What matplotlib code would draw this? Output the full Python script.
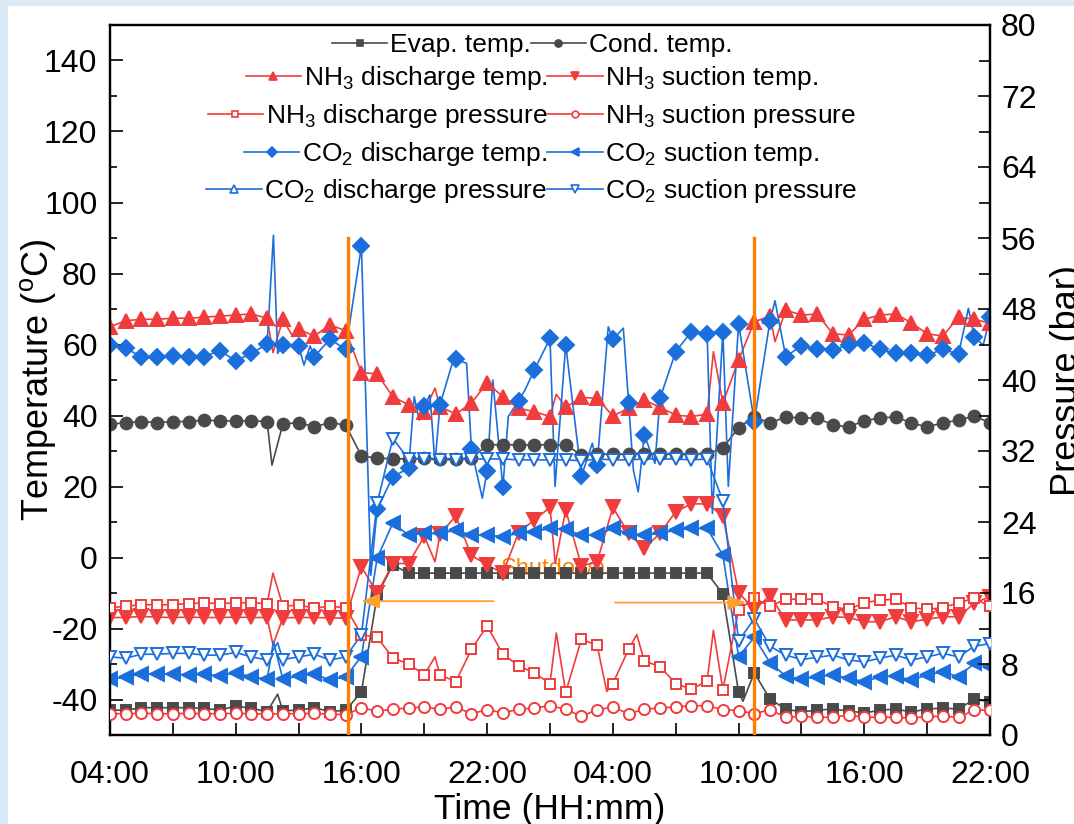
import numpy as np
import matplotlib
matplotlib.use("Agg")
import matplotlib.pyplot as plt
from matplotlib.lines import Line2D
from matplotlib.patches import Rectangle

plt.rcParams['font.family'] = ['Liberation Sans', 'DejaVu Sans']
plt.rcParams['mathtext.default'] = 'regular'
plt.rcParams['axes.unicode_minus'] = False

# ---------------------------------------------------------------------------
# Time axis: hours after 04:00 on day 1, logged every 45 min (57 samples)
# ---------------------------------------------------------------------------
sample_step_h = 0.75
t = np.arange(57) * sample_step_h
tick_hours = [0, 6, 12, 18, 24, 30, 36, 42]
tick_labels = ['04:00', '10:00', '16:00', '22:00', '04:00', '10:00', '16:00', '22:00']

shutdown_start_h = 11.35
shutdown_end_h = 30.72

# Temperatures (degC), left axis
evap_temp = [-43.0, -43.0, -42.3, -42.3, -42.3, -42.3, -42.5, -43.0, -41.8, -42.5, -43.4, -43.2, -43.0, -42.3, -43.4, -43.0,
             -37.9, -10.6, -2.1, -4.4, -4.4, -4.4, -4.4, -4.4, -4.4, -4.4, -4.4, -4.4, -4.4, -4.4, -4.4, -4.4, -4.4, -4.4,
             -4.4, -4.4, -4.4, -4.4, -4.4,
             -10.3, -37.9, -32.5, -39.9, -42.7, -43.5, -43.0, -42.7, -43.2, -43.8, -43.0, -42.7, -43.5, -42.7, -42.4, -42.7,
             -39.9, -40.7]
cond_temp = [37.5, 38.0, 38.3, 38.0, 38.3, 38.3, 38.7, 38.5, 38.5, 38.5, 38.3, 37.6, 38.0, 36.8, 38.0, 37.3,
             28.6, 28.0, 27.8, 27.8, 27.9, 27.8, 27.8, 27.9,
             31.7, 31.8, 31.7, 31.7, 31.8, 31.7,
             28.9, 29.1, 29.1, 29.1, 29.2, 29.1, 29.1, 29.1, 29.2,
             30.8, 36.6,
             39.6, 37.9, 39.6, 39.3, 39.3, 37.3, 36.8, 38.5, 39.3, 39.6, 37.9, 36.8, 37.9, 38.7, 39.9, 37.9]
nh3_dis_temp = [65.0, 66.7, 67.1, 67.1, 67.4, 67.4, 67.7, 68.0, 68.3, 68.6, 67.4, 67.1, 64.3, 62.4, 65.5, 63.9,
                52.1, 51.7, 45.3, 43.0, 41.1, 42.5, 40.4, 43.5, 49.2, 45.3, 42.0, 41.1, 39.7, 42.3, 45.1, 44.8, 39.9,
                42.0, 44.4, 42.3, 40.1, 39.7, 40.4, 43.5, 55.6,
                66.4, 68.0, 69.7, 68.3, 68.6, 63.0, 62.7, 67.1, 68.3, 68.6, 66.1, 63.0, 62.4, 67.7, 67.1, 66.0]
nh3_suc_temp = [-16.9, -16.9, -16.6, -16.8, -16.9, -16.8, -16.9, -16.9, -16.8, -16.9, -16.9, -17.0, -16.9, -16.9, -17.0, -17.1,
                -2.6, -10.1, -1.7, -1.7, 6.0, 6.5, 11.7, 0.6, -2.1, -4.4, 7.0, 10.6, 14.1, 13.4, -2.4, -1.2, 14.1,
                6.8, 2.6, 6.8, 12.9, 15.1, 15.1, 11.7, -9.9,
                -14.6, -10.8, -17.6, -17.6, -17.6, -16.7, -16.9, -18.1, -18.1, -16.7, -18.1, -17.4, -16.7, -16.7, -12.9, -11.0]
co2_dis_temp = [59.9, 58.9, 56.6, 56.4, 56.8, 56.4, 56.6, 58.3, 55.4, 57.5, 60.1, 59.9, 59.6, 56.6, 61.5, 58.6,
                87.7, 13.6, 22.8, 25.1, 42.7, 43.0, 55.8, 30.5, 24.4, 19.8, 44.2, 52.8, 61.7, 59.9, 22.9, 26.1, 61.5,
                43.6, 34.5, 44.8, 58.0, 63.6, 63.0, 63.6, 65.8,
                38.3, 66.7, 56.6, 59.6, 58.6, 58.5, 59.9, 60.5, 58.6, 57.5, 57.5, 57.0, 58.6, 57.3, 62.0, 67.7]
co2_suc_temp = [-34.3, -33.7, -32.8, -32.8, -32.8, -33.1, -32.8, -33.4, -32.4, -33.6, -34.3, -34.3, -33.4, -32.8, -34.5, -33.6,
                -27.9, -0.2, 9.7, 6.3, 6.8, 6.8, 7.7, 6.3, 6.3, 5.9, 6.8, 7.3, 8.2, 7.9, 6.3, 6.3, 8.2, 6.8, 6.3, 6.8,
                7.7, 8.2, 8.2, 0.7, -27.9,
                -22.5, -29.6, -33.4, -34.3, -33.6, -33.1, -34.0, -35.0, -33.6, -33.4, -34.5, -33.1, -32.2, -33.6, -29.8, -30.8]

# Pressures (bar), right axis
nh3_dis_p = [14.35, 14.5, 14.7, 14.65, 14.7, 14.8, 14.9, 14.8, 14.9, 14.9, 14.8, 14.5, 14.65, 14.3, 14.5, 14.35,
             11.3, 11.0, 8.7, 8.0, 6.8, 6.8, 6.0, 9.65, 12.3, 9.1, 7.8, 7.0, 5.8, 4.8, 10.8, 10.1, 5.8, 9.65, 8.35,
             7.7, 5.8, 5.15, 6.1, 5.1, 14.1,
             15.4, 14.5, 15.3, 15.3, 15.3, 14.45, 14.15, 14.9, 15.2, 15.3, 14.35, 14.15, 14.35, 14.9, 15.4, 14.5]
nh3_suc_p = [2.4, 2.4, 2.45, 2.4, 2.4, 2.45, 2.4, 2.4, 2.45, 2.4, 2.35, 2.4, 2.4, 2.45, 2.35, 2.3,
             3.05, 2.7, 2.9, 3.05, 3.15, 2.9, 3.15, 2.4, 2.85, 2.5, 2.9, 3.05, 3.3, 2.9, 2.1, 2.85, 3.15, 2.4, 2.9,
             3.05, 3.15, 3.3, 3.3, 2.85, 2.75,
             2.4, 2.85, 2.0, 2.1, 2.0, 2.0, 2.25, 2.0, 2.0, 2.0, 1.9, 2.1, 2.1, 2.0, 2.8, 2.8]
co2_dis_p = []
co2_suc_p = [8.8, 8.65, 9.1, 9.1, 9.2, 9.2, 9.0, 9.0, 9.3, 8.8, 8.45, 8.5, 8.8, 9.1, 8.45, 8.8,
             11.3, 26.1, 33.4, 31.1, 31.1, 31.0, 31.0, 31.1, 31.1, 31.1, 31.0, 31.0, 31.0, 31.0, 30.9, 31.1, 31.0,
             31.0, 31.1, 31.1, 31.1, 31.0, 31.1, 26.4, 10.6,
             13.1, 10.0, 9.0, 8.5, 8.75, 9.0, 8.45, 8.25, 8.65, 9.0, 8.45, 8.8, 9.2, 8.8, 10.0, 10.3]

# Intermediate readings between the marked samples {hour: value}
evap_extra = {8.0: -38.5, 30.21: -40.5}
cond_extra = {7.73: 26.0}
nh3_dis_temp_extra = {7.78: 57.7, 8.73: 62.2, 15.51: 47.7, 21.3: 46.0, 28.8: 58.0, 31.74: 60.8}
nh3_suc_temp_extra = {7.78: -24.6, 15.51: -1.2, 21.25: -1.7}
co2_dis_temp_extra = {7.8: 90.8, 8.0: 57.5, 9.26: 54.2, 9.55: 59.6, 12.45: -5.0, 14.52: 45.3, 14.76: 38.7,
                      15.27: 45.8, 15.51: 26.5, 16.31: 54.2, 17.02: 54.7, 17.77: 16.7, 18.27: 50.0, 19.01: 39.7,
                      19.81: 47.2, 21.24: 20.0, 23.02: 32.2, 23.78: 65.0, 24.5: 64.6, 24.98: 24.6, 25.21: 18.5,
                      26.01: 26.5, 28.75: 12.4, 29.51: 20.0, 31.74: 72.3, 40.97: 70.2, 41.68: 59.9}
co2_suc_temp_extra = {7.8: -23.7}
nh3_dis_p_extra = {7.78: 18.25, 15.51: 8.8, 21.3: 11.5, 23.71: 4.9, 25.14: 11.3, 28.8: 11.8}
nh3_suc_p_extra = {}
co2_dis_p_extra = {}
co2_suc_p_extra = {8.0: 10.4}

GRAY = '#4a4a4a'
RED = '#f03c3c'
BLUE = '#1b6fdc'
ORANGE = '#ff8000'

fig = plt.figure(figsize=(10.74, 8.24), dpi=100)
fig.patch.set_facecolor('#dbeaf7')
fig.add_artist(Rectangle((8 / 1074, 0), 1, 1 - 6 / 824, transform=fig.transFigure,
                         facecolor='white', edgecolor='none', zorder=-10))

ax = fig.add_axes([110 / 1074, 89 / 824, 880 / 1074, 710 / 824])
ax2 = ax.twinx()
ax.set_zorder(1)
ax2.set_zorder(2)
ax.patch.set_facecolor('white')
ax2.patch.set_visible(False)


def merged(values, extra):
    pts = dict(zip(t[:len(values)], values))
    pts.update(extra)
    keys = sorted(pts)
    return keys, [pts[k] for k in keys]


series = [
    # (axis, values, extra, label, color, marker, ms, filled)
    (ax, evap_temp, evap_extra, 'Evap. temp.', GRAY, 's', 7.5, True),
    (ax, cond_temp, cond_extra, 'Cond. temp.', GRAY, 'o', 8.5, True),
    (ax, nh3_dis_temp, nh3_dis_temp_extra, 'NH$_3$ discharge temp.', RED, '^', 10, True),
    (ax, nh3_suc_temp, nh3_suc_temp_extra, 'NH$_3$ suction temp.', RED, 'v', 10, True),
    (ax2, nh3_dis_p, nh3_dis_p_extra, 'NH$_3$ discharge pressure', RED, 's', 7.5, False),
    (ax2, nh3_suc_p, nh3_suc_p_extra, 'NH$_3$ suction pressure', RED, 'o', 8, False),
    (ax, co2_dis_temp, co2_dis_temp_extra, 'CO$_2$ discharge temp.', BLUE, 'D', 8.5, True),
    (ax, co2_suc_temp, co2_suc_temp_extra, 'CO$_2$ suction temp.', BLUE, '<', 10, True),
    (ax2, co2_dis_p, co2_dis_p_extra, 'CO$_2$ discharge pressure', BLUE, '^', 9, False),
    (ax2, co2_suc_p, co2_suc_p_extra, 'CO$_2$ suction pressure', BLUE, 'v', 9, False),
]

handles = {}
for axis, vals, extra, label, color, marker, ms, filled in series:
    lx, ly = merged(vals, extra)
    axis.plot(lx, ly, color=color, lw=1.2, zorder=3)
    mfc = color if filled else 'white'
    axis.plot(t[:len(vals)], vals, linestyle='none', marker=marker, ms=ms,
              mfc=mfc, mec=color, mew=1.4, zorder=4)
    handles[label] = Line2D([], [], color=color, lw=1.2, marker=marker, ms=ms * 0.6,
                            mfc=mfc, mec=color, mew=1.2)

# Shutdown annotation
ax.text(21.15, -3.2, 'Shutdown', color=ORANGE, fontsize=17, ha='center', va='center', zorder=2)
for xv in (shutdown_start_h, shutdown_end_h):
    ax2.plot([xv, xv], [-50, 90], color=ORANGE, lw=2.4, transform=ax.transData, zorder=6)
arrow_kw = dict(arrowstyle='-|>,head_length=1.1,head_width=0.45', color='#ffa033', lw=1.3,
                shrinkA=0, shrinkB=0)
ax2.annotate('', xy=(12.0, -12.3), xytext=(18.3, -12.3), xycoords=ax.transData,
             textcoords=ax.transData, arrowprops=arrow_kw, zorder=7)
ax2.annotate('', xy=(30.35, -12.7), xytext=(24.1, -12.7), xycoords=ax.transData,
             textcoords=ax.transData, arrowprops=arrow_kw, zorder=7)

# Axes, ticks, labels
ax.set_xlim(0, 42)
ax.set_ylim(-50, 150)
ax2.set_ylim(0, 80)
ax.set_xticks(tick_hours)
ax.set_xticklabels(tick_labels)
ax.set_xticks(np.arange(3, 42, 6), minor=True)
ax.set_yticks(np.arange(-40, 141, 20))
ax.set_yticks(np.arange(-50, 151, 10), minor=True)
ax2.set_yticks(np.arange(0, 81, 8))
ax2.set_yticks(np.arange(0, 81, 4), minor=True)

for a in (ax, ax2):
    for s in a.spines.values():
        s.set_linewidth(1.6)
ax.tick_params(axis='both', which='both', direction='in', labelsize=23, width=1.2)
ax.tick_params(axis='y', which='major', length=9, pad=9)
ax.tick_params(axis='y', which='minor', length=5)
ax.tick_params(axis='x', which='both', length=9, pad=18)
ax2.tick_params(axis='y', which='both', direction='in', labelsize=23, width=1.2)
ax2.tick_params(axis='y', which='major', length=9, pad=8)
ax2.tick_params(axis='y', which='minor', length=8)

ax.set_xlabel('Time (HH:mm)', fontsize=25.5, labelpad=2)
ax.set_ylabel('Temperature ($^{o}$C)', fontsize=26)
ax.yaxis.set_label_coords(-0.059, 0.5)
ax2.set_ylabel('Pressure (bar)', fontsize=26)
ax2.yaxis.set_label_coords(1.068, 0.5)

# Legend: five centred rows of two entries
legend_rows = [
    ('Evap. temp.', 'Cond. temp.', 45),
    ('NH$_3$ discharge temp.', 'NH$_3$ suction temp.', 78),
    ('NH$_3$ discharge pressure', 'NH$_3$ suction pressure', 116),
    ('CO$_2$ discharge temp.', 'CO$_2$ suction temp.', 154),
    ('CO$_2$ discharge pressure', 'CO$_2$ suction pressure', 191),
]
for left_lab, right_lab, ypx in legend_rows:
    leg = fig.legend([handles[left_lab], handles[right_lab]], [left_lab, right_lab],
                     loc='center', bbox_to_anchor=(532 / 1074, 1 - ypx / 824), ncol=2,
                     frameon=False, fontsize=19, handlelength=2.1, handletextpad=0.1,
                     columnspacing=0.0, borderpad=0, borderaxespad=0)
    leg.set_zorder(8)

fig.savefig('out.png', dpi=100, facecolor=fig.get_facecolor())
